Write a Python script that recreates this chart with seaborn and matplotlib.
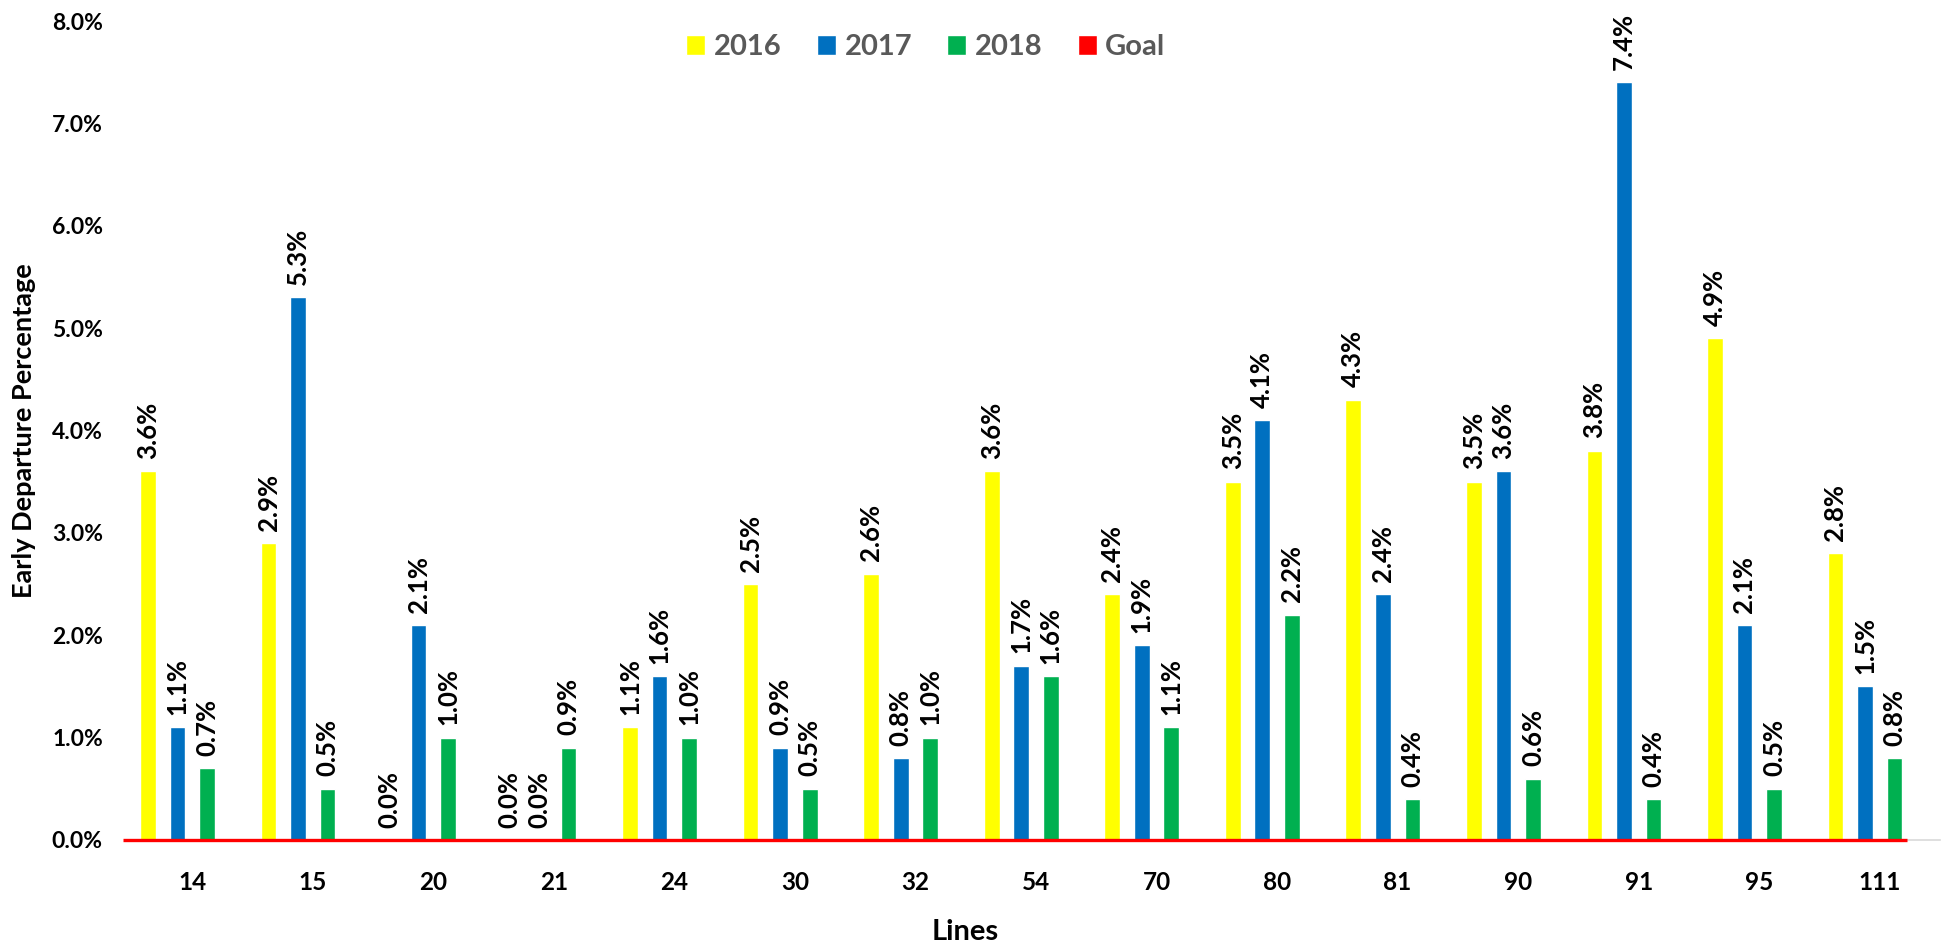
import matplotlib
matplotlib.use("Agg")
import matplotlib.pyplot as plt
import seaborn as sns
import pandas as pd
from matplotlib.ticker import FuncFormatter

lines = ["14", "15", "20", "21", "24", "30", "32", "54", "70", "80", "81", "90", "91", "95", "111"]
y2016 = [3.6, 2.9, 0.0, 0.0, 1.1, 2.5, 2.6, 3.6, 2.4, 3.5, 4.3, 3.5, 3.8, 4.9, 2.8]
y2017 = [1.1, 5.3, 2.1, 0.0, 1.6, 0.9, 0.8, 1.7, 1.9, 4.1, 2.4, 3.6, 7.4, 2.1, 1.5]
y2018 = [0.7, 0.5, 1.0, 0.9, 1.0, 0.5, 1.0, 1.6, 1.1, 2.2, 0.4, 0.6, 0.4, 0.5, 0.8]
goal = [0.0] * 15
series_names = ["2016", "2017", "2018", "Goal"]
colors = ["#FFFF00", "#0070C0", "#00B050", "#FF0000"]

rows = []
for name, vals in zip(series_names, [y2016, y2017, y2018, goal]):
    for ln, v in zip(lines, vals):
        rows.append({"Lines": ln, "Series": name, "Value": v / 100.0})
df = pd.DataFrame(rows)

sns.set_theme(style="white")
plt.rcParams["font.family"] = ["Lato", "DejaVu Sans"]

fig = plt.figure(figsize=(19.46, 9.5), dpi=100)
ax = fig.add_axes([132 / 1946, 1 - 840 / 950, (1940 - 132) / 1946, (840 - 21) / 950])

sns.barplot(data=df, x="Lines", y="Value", hue="Series", order=lines,
            hue_order=series_names, palette=colors, width=0.98, gap=0.47,
            dodge=True, errorbar=None, saturation=1, ax=ax, legend=True)

# data labels
for cont, name in zip(ax.containers, series_names):
    if name == "Goal":
        continue
    for patch in cont:
        h = patch.get_height()
        xc = patch.get_x() + patch.get_width() / 2
        ax.annotate(f"{h * 100:.1f}%", (xc, h), xytext=(0, 9), textcoords="offset points",
                    rotation=90, ha="center", va="bottom", fontsize=18.5, fontweight="bold",
                    color="black", annotation_clip=False)

# goal line
ax.plot([-0.577, 14.23], [0, 0], color="#FF0000", lw=2.4, clip_on=False, zorder=5,
        solid_capstyle="butt")

ax.set_xlim(-0.5, 14.5)
ax.set_ylim(0, 0.08)
ax.set_yticks([i / 100 for i in range(0, 9)])
ax.yaxis.set_major_formatter(FuncFormatter(lambda v, p: f"{v * 100:.1f}%"))

for s in ["top", "right", "left"]:
    ax.spines[s].set_visible(False)
ax.spines["bottom"].set_color("#D9D9D9")
ax.spines["bottom"].set_linewidth(1.2)
ax.tick_params(axis="both", length=0)
ax.tick_params(axis="y", pad=21, labelsize=16.5)
ax.tick_params(axis="x", pad=22, labelsize=17.5)
for lab in ax.get_yticklabels() + ax.get_xticklabels():
    lab.set_fontweight("bold")
    lab.set_color("black")

ax.set_xlabel("Lines", fontsize=21, fontweight="bold", color="black")
ax.xaxis.set_label_coords(0.461, -0.097)
ax.set_ylabel("Early Departure Percentage", fontsize=19.5, fontweight="bold", color="black")
ax.yaxis.set_label_coords(-0.053, 0.5)

handles, labels = ax.get_legend_handles_labels()
leg = ax.legend(handles, labels, ncol=4, frameon=False, loc="center",
                bbox_to_anchor=((926 - 132) / 1808, 0.968), fontsize=21,
                handlelength=0.65, handleheight=0.65, handletextpad=0.3, columnspacing=1.2)
for t in leg.get_texts():
    t.set_color("#595959")
    t.set_fontweight("bold")

fig.savefig("out.png", dpi=100, facecolor="white")
